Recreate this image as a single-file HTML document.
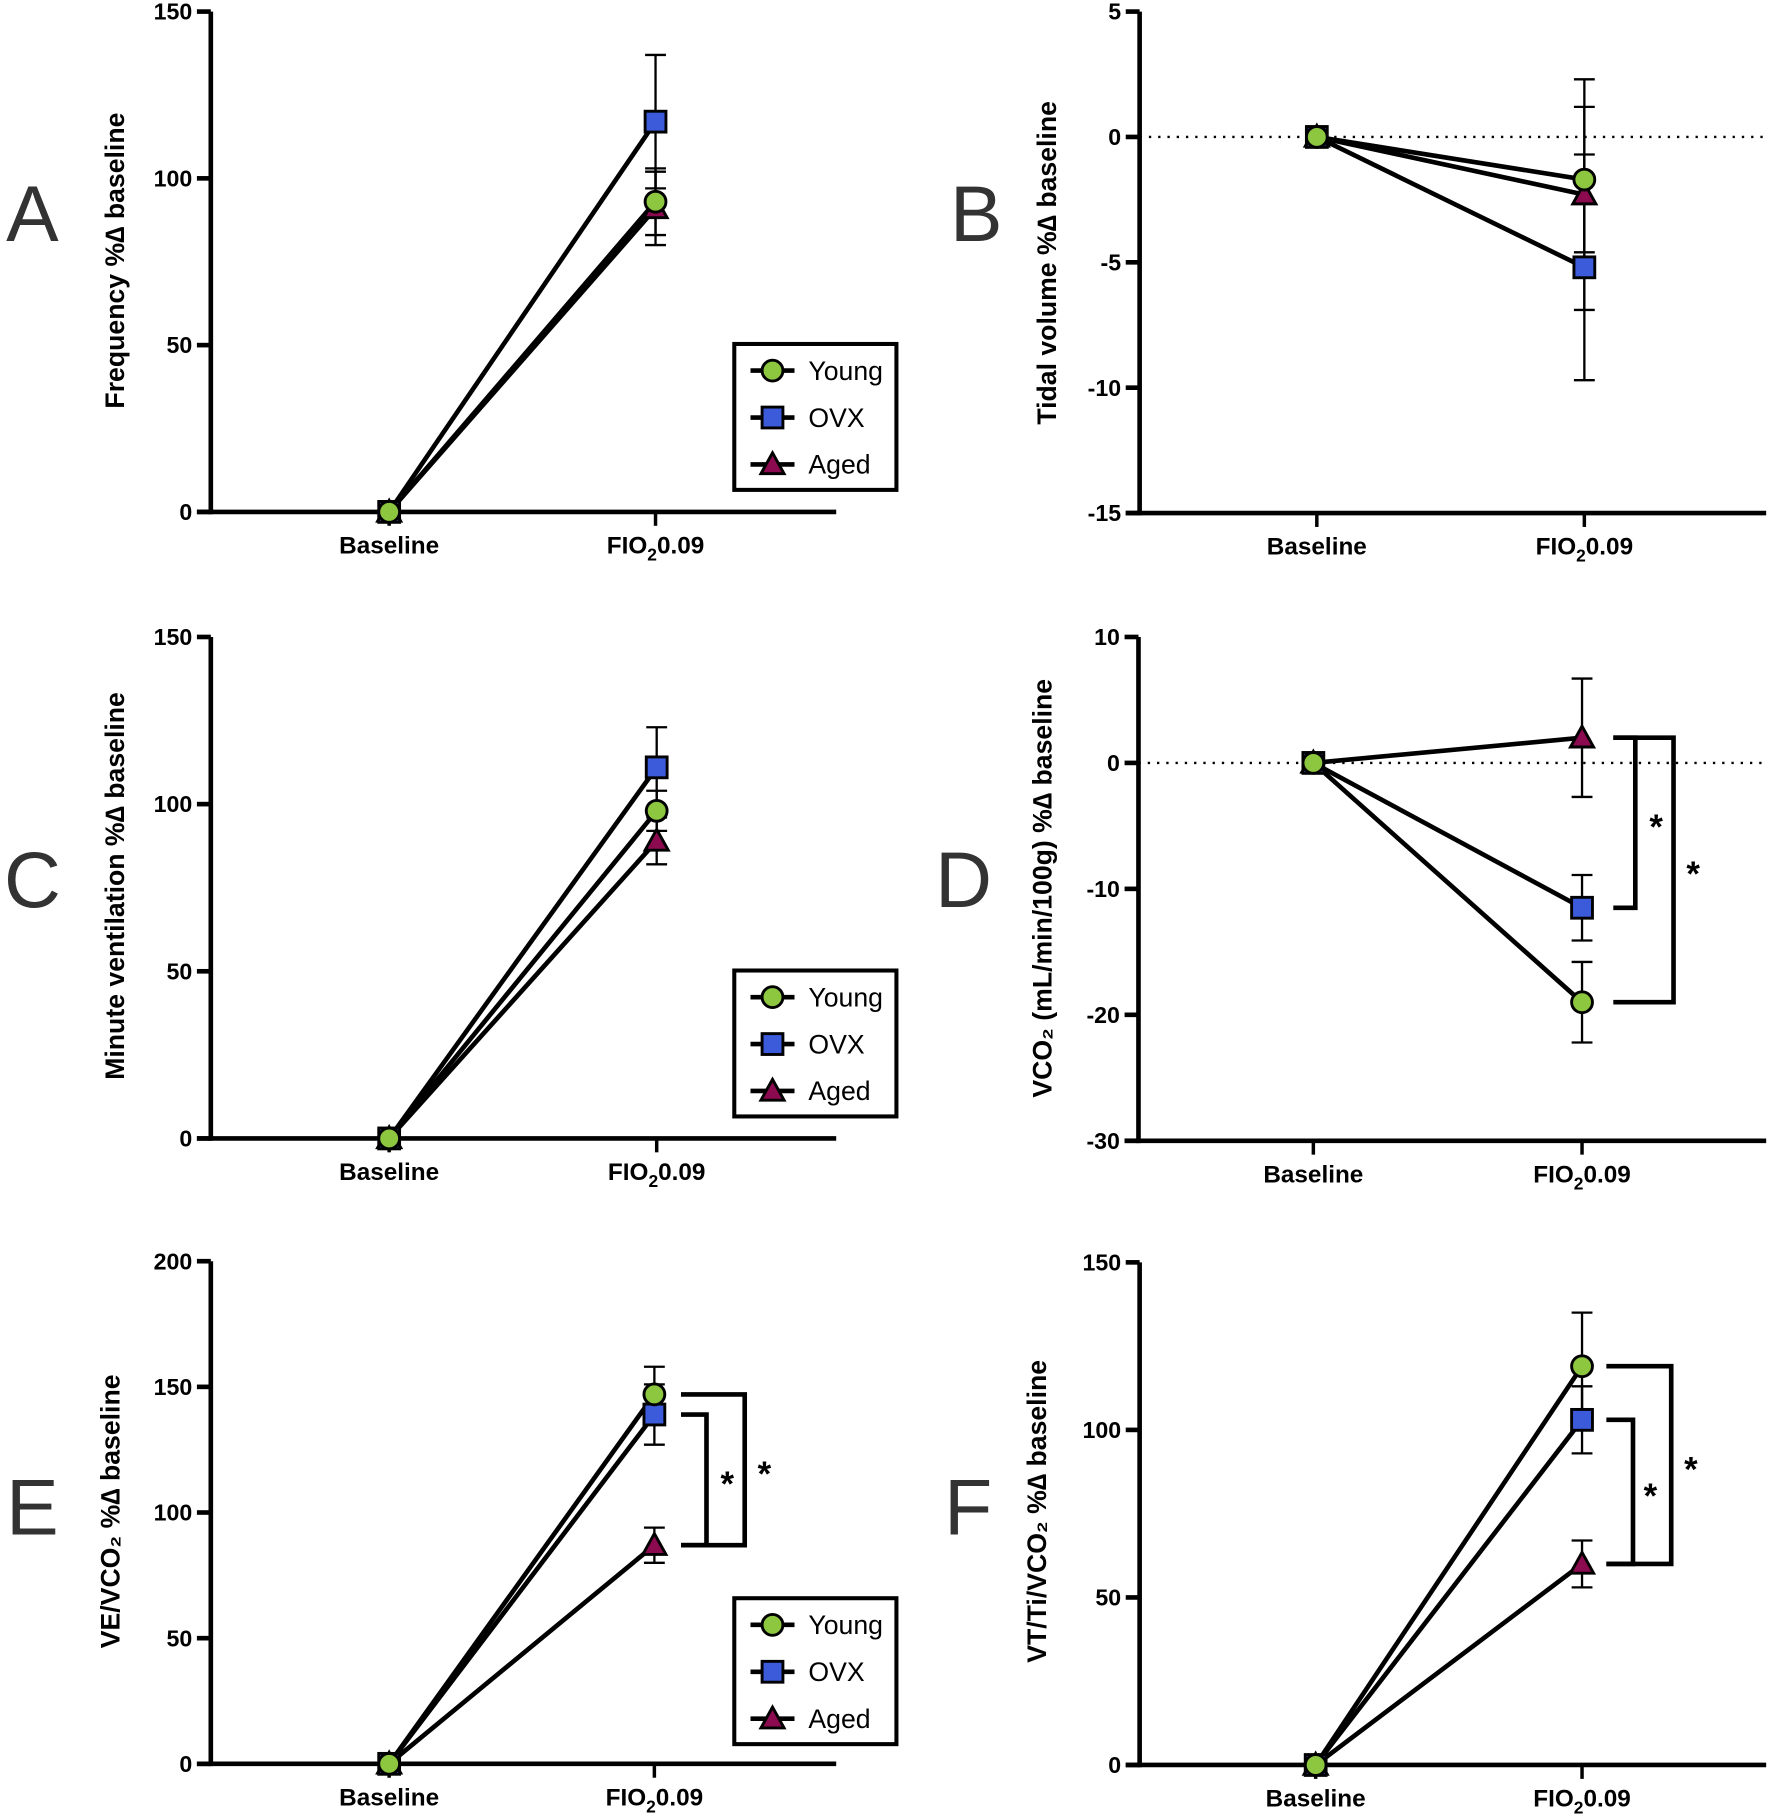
<!DOCTYPE html>
<html><head><meta charset="utf-8">
<style>
html,body{margin:0;padding:0;background:#fff;}
svg{display:block;font-family:"Liberation Sans",sans-serif;}
.tick{font-family:"Liberation Sans Narrow","Liberation Sans",sans-serif;font-weight:bold;font-size:20px;}
.cat{font-family:"Liberation Sans Narrow","Liberation Sans",sans-serif;font-weight:bold;font-size:21px;}
.yt{font-weight:bold;font-size:23px;}
.plab{font-size:68px;fill:#333;}
.leg{font-family:"Liberation Sans Narrow","Liberation Sans",sans-serif;font-size:23px;}
</style></head>
<body>
<svg id="fig" width="1772" height="1820" viewBox="0 0 1530 1571.5" xmlns="http://www.w3.org/2000/svg"></svg>
<script>
const categories = ["Baseline", "FIO2 0.09"];
const groups = ["Young", "OVX", "Aged"];
const colors = {Young:"#8dc63f", OVX:"#3b5bdb", Aged:"#8b0a50"};
// values at FIO2 0.09 per panel: [Young, OVX, Aged]
const valsA = [93, 117, 91];   const errA = [10, 20, 11];
const valsB = [-1.7, -5.2, -2.3]; const errB = [2.9, 4.5, 4.6];
const valsC = [98, 111, 89];   const errC = [6, 12, 7];
const valsD = [-19, -11.5, 2]; const errD = [3.2, 2.6, 4.7];
const valsE = [147, 139, 87];  const errE = [11, 12, 7];
const valsF = [119, 103, 60];  const errF = [16, 10, 7];
const ticksA = [0, 50, 100, 150];
const ticksB = [-15, -10, -5, 0, 5];
const ticksC = [0, 50, 100, 150];
const ticksD = [-30, -20, -10, 0, 10];
const ticksE = [0, 50, 100, 150, 200];
const ticksF = [0, 50, 100, 150];

const NS = "http://www.w3.org/2000/svg";
const svg = document.getElementById("fig");
function mk(tag, attrs, parent){const e=document.createElementNS(NS,tag);for(const k in attrs)e.setAttribute(k,attrs[k]);(parent||svg).appendChild(e);return e;}

const panels = [
 {id:"a",letter:"A",lx:28,ly:208,ax:182,top:10,bot:442,xend:722,bx:336,fx:566,ticks:ticksA,vals:valsA,err:errA,title:"Frequency %∆ baseline",tx:107,ty:225,zero:false,legend:[634,297]},
 {id:"b",letter:"B",lx:843,ly:208,ax:984,top:10,bot:443,xend:1525,bx:1137,fx:1368,ticks:ticksB,vals:valsB,err:errB,title:"Tidal volume %∆ baseline",tx:912,ty:227,zero:true},
 {id:"c",letter:"C",lx:28,ly:783,ax:182,top:550,bot:983,xend:722,bx:336,fx:567,ticks:ticksC,vals:valsC,err:errC,title:"Minute ventilation %∆ baseline",tx:107,ty:765,zero:false,legend:[634,838]},
 {id:"d",letter:"D",lx:832,ly:783,ax:983,top:550,bot:985,xend:1525,bx:1134,fx:1366,ticks:ticksD,vals:valsD,err:errD,title:"VCO₂ (mL/min/100g) %∆ baseline",tx:908,ty:767,zero:true,
   br:[[2,-11.5,1393,1412,1430],[2,-19,1393,1445,1462]]},
 {id:"e",letter:"E",lx:28,ly:1325,ax:182,top:1089,bot:1523,xend:722,bx:336,fx:565,ticks:ticksE,vals:valsE,err:errE,title:"VE/VCO₂  %∆ baseline",tx:103,ty:1305,zero:false,legend:[634,1380],
   br:[[139,87,588,610,628],[147,87,588,643,660]]},
 {id:"f",letter:"F",lx:836,ly:1325,ax:984,top:1090,bot:1524,xend:1525,bx:1136,fx:1366,ticks:ticksF,vals:valsF,err:errF,title:"VT/Ti/VCO₂  %∆ baseline",tx:903,ty:1305,zero:false,
   br:[[103,60,1387,1410,1425],[119,60,1387,1443,1460]]}
];

panels.forEach(p=>{
  const g=mk("g",{});
  
  
  const tmin=p.ticks[0], tmax=p.ticks[p.ticks.length-1];
  const y=v=>p.bot-(v-tmin)/(tmax-tmin)*(p.bot-p.top);
  const xs=[p.bx,p.fx];
  const lab=mk("text",{x:p.lx,y:p.ly,"text-anchor":"middle",class:"plab"},g);lab.textContent=p.letter;
  
  
  const ya=mk("line",{x1:p.ax,y1:p.top,x2:p.ax,y2:p.bot+2,stroke:"#000","stroke-width":4},g);
  
  
  const xa=mk("line",{x1:p.ax-12,y1:p.bot,x2:p.xend,y2:p.bot,stroke:"#000","stroke-width":4},g);
  
  
  p.ticks.forEach(t=>{
    mk("line",{x1:p.ax-12,y1:y(t),x2:p.ax,y2:y(t),stroke:"#000","stroke-width":4},g);
    const tt=mk("text",{x:p.ax-16,y:y(t)+7,"text-anchor":"end",class:"tick"},g);tt.textContent=t;
    
    
  });
  xs.forEach((x,i)=>{
    mk("line",{x1:x,y1:p.bot,x2:x,y2:p.bot+12,stroke:"#000","stroke-width":3},g);
    const ct=mk("text",{x:x,y:p.bot+36,"text-anchor":"middle",class:"cat"},g);
    
    
    if(i===0) ct.textContent=categories[0];
    else ct.innerHTML='FIO<tspan dy="6" font-size="15">2</tspan><tspan dy="-6">0.09</tspan>';
  });
  const yt=mk("text",{transform:`translate(${p.tx},${p.ty}) rotate(-90)`,"text-anchor":"middle",class:"yt"},g);
  yt.textContent=p.title;
  
  
  if(p.zero){
    const z=mk("line",{x1:p.ax,y1:y(0),x2:p.xend,y2:y(0),stroke:"#000","stroke-width":2,"stroke-dasharray":"2,6"},g);
    
    
  }
  groups.forEach((gname,i)=>{
    const v=p.vals[i],e=p.err[i];
    const eb=mk("g",{stroke:"#000","stroke-width":2},g);
    
    
    mk("line",{x1:p.fx,y1:y(v+e),x2:p.fx,y2:y(v-e)},eb);
    mk("line",{x1:p.fx-9,y1:y(v+e),x2:p.fx+9,y2:y(v+e)},eb);
    mk("line",{x1:p.fx-9,y1:y(v-e),x2:p.fx+9,y2:y(v-e)},eb);
  });
  groups.forEach((gname,i)=>{
    const l=mk("line",{x1:p.bx,y1:y(0),x2:p.fx,y2:y(p.vals[i]),stroke:"#000","stroke-width":4},g);
    
    
  });
  const marker=(gname,x,yy,parent)=>{
    let m;
    if(gname==="Young") m=mk("circle",{cx:x,cy:yy,r:9,fill:colors.Young,stroke:"#000","stroke-width":2.5},parent);
    else if(gname==="OVX") m=mk("rect",{x:x-9,y:yy-9,width:18,height:18,fill:colors.OVX,stroke:"#000","stroke-width":2.5},parent);
    else m=mk("polygon",{points:`${x},${yy-10} ${x+10},${yy+8} ${x-10},${yy+8}`,fill:colors.Aged,stroke:"#000","stroke-width":2.5},parent);
    return m;
  };
  ["Aged","OVX","Young"].forEach(gname=>{
    const i=groups.indexOf(gname);
    const m0=marker(gname,p.bx,y(0),g);
    
    
    const m1=marker(gname,p.fx,y(p.vals[i]),g);
    
    
  });
  (p.br||[]).forEach(b=>{
    const bg=mk("g",{},g);
    
    
    mk("polyline",{points:`${b[2]},${y(b[0])} ${b[3]},${y(b[0])} ${b[3]},${y(b[1])} ${b[2]},${y(b[1])}`,fill:"none",stroke:"#000","stroke-width":4},bg);
    const st=mk("text",{x:b[4],y:(y(b[0])+y(b[1]))/2+14,"text-anchor":"middle","font-size":30,"font-weight":"bold"},bg);
    st.textContent="*";
  });
  if(p.legend){
    const [lx,ly]=p.legend;
    const lg=mk("g",{},g);
    
    
    mk("rect",{x:lx,y:ly,width:140,height:126,fill:"#fff",stroke:"#000","stroke-width":3.5},lg);
    groups.forEach((gname,i)=>{
      const cy=ly+23+i*40.5;
      const eg=mk("g",{},lg);
      
      
      mk("line",{x1:lx+14,y1:cy,x2:lx+52,y2:cy,stroke:"#000","stroke-width":4},eg);
      marker(gname,lx+33,cy,eg);
      const t=mk("text",{x:lx+64,y:cy+8,class:"leg"},eg);t.textContent=gname;
    });
  }
});
</script>
</body></html>
